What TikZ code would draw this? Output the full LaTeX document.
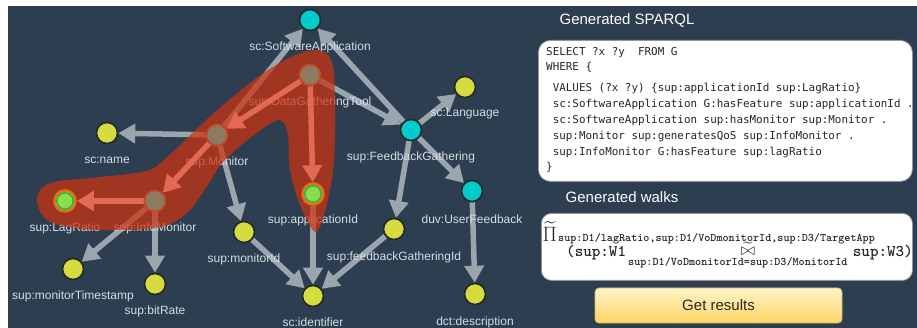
\documentclass[tikz,border=0pt]{standalone}
\usepackage{amsmath}
\usepackage{fontspec}
\setmainfont{Liberation Sans}
\newfontfamily\sparqlfont{DejaVu Sans Mono}
\usetikzlibrary{arrows.meta}
\definecolor{bgc}{RGB}{44,62,80}
\definecolor{edgegray}{RGB}{155,165,174}
\definecolor{hlc}{RGB}{226,106,82}
\definecolor{blobc}{RGB}{205,50,16}
\definecolor{ynode}{RGB}{212,220,63}
\definecolor{cnode}{RGB}{0,204,204}
\definecolor{bnode}{RGB}{140,123,94}
\definecolor{bborder}{RGB}{200,70,40}
\definecolor{gfill}{RGB}{140,220,80}
\definecolor{gring}{RGB}{40,180,60}
\definecolor{oring}{RGB}{235,110,20}
\definecolor{ndark}{RGB}{40,40,40}
\definecolor{lblc}{RGB}{214,220,226}
\definecolor{boxborder}{RGB}{150,150,150}
\definecolor{btntop}{RGB}{255,243,200}
\definecolor{btnbot}{RGB}{253,214,100}
\definecolor{btnborder}{RGB}{215,185,95}
\pgfdeclarelayer{back}
\pgfdeclarelayer{edges}
\pgfdeclarelayer{blobl}
\pgfdeclarelayer{hl}
\pgfsetlayers{back,edges,blobl,hl,main}
\begin{document}
\begin{tikzpicture}[x=1pt,y=-1pt,
  gn/.style={circle, minimum size=21pt, inner sep=0pt, line width=1.6pt},
  yn/.style={gn, fill=ynode, draw=ndark},
  cn/.style={gn, fill=cnode, draw=ndark},
  bn/.style={gn, fill=bnode, draw=bborder},
  grn/.style={gn, fill=gfill, draw=oring, line width=2.5pt},
  lbl/.style={text=lblc, font=\fontsize{12}{14}\selectfont, inner sep=0pt},
  ge/.style={draw=edgegray, line width=5.5pt, -{Triangle[length=17pt,width=19pt]}},
  he/.style={ge, draw=hlc},
  qline/.style={anchor=base west, inner sep=0pt, text=black!85, font=\sparqlfont\fontsize{10.9}{13}\selectfont},
  hdr/.style={text=white, font=\fontsize{15}{18}\selectfont, inner sep=0pt},
  wbig/.style={inner sep=0pt, text=black!85, font=\ttfamily\bfseries\fontsize{16.3}{18}\selectfont},
  wsub/.style={inner sep=0pt, text=black!85, font=\ttfamily\bfseries\fontsize{11.6}{13}\selectfont},
  wmath/.style={inner sep=0pt, text=black!85, font=\fontsize{17.28}{19}\selectfont},
  wpimath/.style={inner sep=0pt, text=black!85, font=\fontsize{20.74}{22}\selectfont},
]
\useasboundingbox (0,0) rectangle (917,328);
\begin{pgfonlayer}{back}
  \fill[white] (0,0) rectangle (917,328);
  \fill[bgc] (8,6) rectangle (917,328);
\end{pgfonlayer}

% graph nodes
\node[cn] (sa) at (310,20) {};
\node[bn] (dgt) at (310,75) {};
\node[yn] (name) at (107,133) {};
\node[bn] (mon) at (217,135) {};
\node[yn] (lang) at (465,87) {};
\node[cn] (fg) at (411,130) {};
\node[grn] (lag) at (65,201) {};
\draw[gring, line width=1.4pt] (lag) circle (8.2pt);
\node[bn] (info) at (155,201) {};
\node[grn] (appid) at (313,194) {};
\draw[gring, line width=1.4pt] (appid) circle (8.2pt);
\node[cn] (uf) at (472,191) {};
\node[yn] (monid) at (244,232) {};
\node[yn] (fgid) at (394,229) {};
\node[yn] (ts) at (73,269) {};
\node[yn] (bit) at (155,284) {};
\node[yn] (ident) at (313,296) {};
\node[yn] (desc) at (475,294) {};

\begin{pgfonlayer}{edges}
  % gray edges
  \draw[ge] (mon) -- (sa);
  \draw[ge] (fg) -- (sa);
  \draw[ge] (dgt) -- (fg);
  \draw[ge] (fg) -- (lang);
  \draw[ge] (fg) -- (uf);
  \draw[ge] (fg) -- (fgid);
  \draw[ge] (uf) -- (desc);
  \draw[ge] (mon) -- (name);
  \draw[ge] (mon) -- (monid);
  \draw[ge] (info) -- (ts);
  \draw[ge] (info) -- (bit);
  \draw[ge] (appid) -- (ident);
  \draw[ge] (monid) -- (ident);
  \draw[ge] (fgid) -- (ident);
  % labels
  \node[lbl] (l-sa) at ([yshift=-27pt]sa) {sc:SoftwareApplication};
  \node[lbl] (l-dgt) at ([yshift=-27pt]dgt) {sup:DataGatheringTool};
  \node[lbl] (l-name) at ([yshift=-27pt]name) {sc:name};
  \node[lbl] (l-mon) at ([yshift=-27pt]mon) {sup:Monitor};
  \node[lbl] (l-lang) at ([yshift=-27pt]lang) {sc:Language};
  \node[lbl] (l-fg) at ([yshift=-27pt]fg) {sup:FeedbackGathering};
  \node[lbl] (l-lag) at ([yshift=-27pt]lag) {sup:LagRatio};
  \node[lbl] (l-info) at ([yshift=-27pt]info) {sup:InfoMonitor};
  \node[lbl] (l-appid) at ([yshift=-26pt]appid) {sup:applicationId};
  \node[lbl] (l-uf) at ([yshift=-28pt]uf) {duv:UserFeedback};
  \node[lbl] (l-monid) at ([yshift=-27pt]monid) {sup:monitorId};
  \node[lbl] (l-fgid) at ([yshift=-28pt]fgid) {sup:feedbackGatheringId};
  \node[lbl] (l-ts) at ([yshift=-27pt]ts) {sup:monitorTimestamp};
  \node[lbl] (l-bit) at ([yshift=-27pt]bit) {sup:bitRate};
  \node[lbl] (l-ident) at ([yshift=-26pt]ident) {sc:identifier};
  \node[lbl] (l-desc) at ([yshift=-28pt]desc) {dct:description};
\end{pgfonlayer}

\begin{pgfonlayer}{blobl}
  \fill[blobc, opacity=0.72] plot[smooth cycle, tension=0.55] coordinates {
    (37,200) (50,183) (100,177) (146,171) (166,158) (215,112) (262,74)
    (298,54) (322,51) (333,66) (335,110) (334,160) (328,200) (316,232)
    (300,205) (290,170) (288,135) (280,120) (258,132) (225,160) (207,186)
    (188,212) (160,227) (100,230) (50,222)};
\end{pgfonlayer}

\begin{pgfonlayer}{hl}
  \draw[he] (dgt) -- (mon);
  \draw[he] (dgt) -- (appid);
  \draw[he] (mon) -- (info);
  \draw[he] (info) -- (lag);
\end{pgfonlayer}

% right panel
\node[hdr] (h1) at (627,20) {Generated SPARQL};
\node[draw=boxborder, line width=0.8pt, fill=white, rounded corners=12pt, minimum width=374pt, minimum height=141pt, anchor=north west, inner sep=0pt] (qbox) at (538,40) {};
\node[qline] (q1) at (546,56) {SELECT ?x ?y\ \ FROM G};
\node[qline] (q2) at (546,71) {WHERE \{};
\node[qline] (q3) at (552.6,92) {VALUES (?x ?y) \{sup:applicationId sup:LagRatio\}};
\node[qline] (q4) at (552.6,108) {sc:SoftwareApplication G:hasFeature sup:applicationId .};
\node[qline] (q5) at (552.6,124) {sc:SoftwareApplication sup:hasMonitor sup:Monitor .};
\node[qline] (q6) at (552.6,140) {sup:Monitor sup:generatesQoS sup:InfoMonitor .};
\node[qline] (q7) at (552.6,156) {sup:InfoMonitor G:hasFeature sup:lagRatio};
\node[qline] (q8) at (546,171) {\}};

\node[hdr] (h2) at (622,197) {Generated walks};
\node[draw=boxborder, line width=0.8pt, fill=white, rounded corners=10pt, minimum width=371pt, minimum height=67pt, anchor=north west, inner sep=0pt] (wbox) at (541,213) {};
\node[wpimath, anchor=base west] (wpi) at (542.5,241.5) {$\widetilde{\Pi}$};
\node[wsub, anchor=base west] (wsub1) at (558,242) {sup:D1/lagRatio,sup:D1/VoDmonitorId,sup:D3/TargetApp};
\node[wbig, anchor=base west] (wl) at (566,257) {(sup:W1};
\node[wmath] (wjoin) at (748,249) {$\widetilde{\bowtie}$};
\node[wsub, anchor=base west] (wsub2) at (628,266) {sup:D1/VoDmonitorId=sup:D3/MonitorId};
\node[wbig, anchor=base east] (wr) at (913,257) {sup:W3)};

\node[draw=btnborder, line width=0.8pt, rounded corners=4pt, top color=btntop, bottom color=btnbot, minimum width=247pt, minimum height=35pt, inner sep=0pt, font=\fontsize{15}{18}\selectfont, text=black!85] (btn) at (718.5,305.5) {Get results};
\end{tikzpicture}
\end{document}
